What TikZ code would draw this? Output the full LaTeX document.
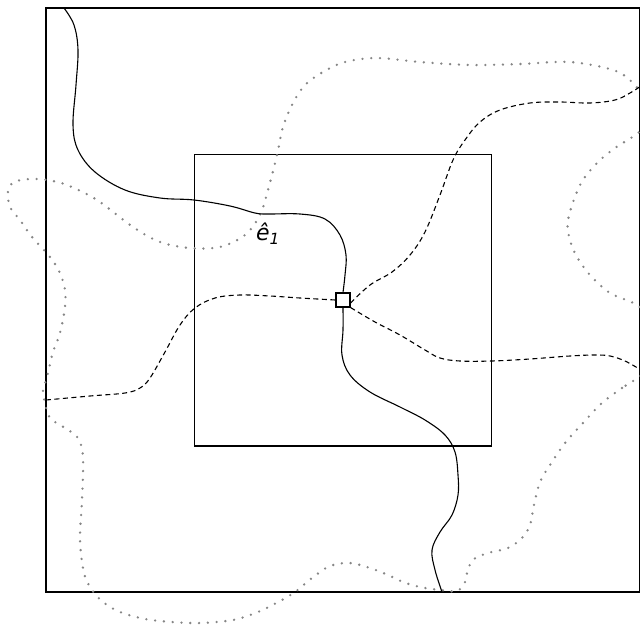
\documentclass[tikz,border=0pt]{standalone}
\usepackage{fontspec}
\setmainfont{DejaVu Sans}

\begin{document}
\begin{tikzpicture}[x=1pt, y=-1pt,
    frame/.style={draw, line width=1.1pt},
    trail/.style={line width=1.1pt, smooth, tension=0.6},
    dashtrail/.style={trail, dash pattern=on 5pt off 3.5pt},
    dots/.style={draw=gray!95, line width=2.6pt, line cap=round, dash pattern=on 0pt off 8.8pt},
    site/.style={draw, fill=white, line width=1.1pt, minimum size=14pt, inner sep=0pt}]
    \useasboundingbox (0,0) rectangle (640,626);
    \clip (0,0) rectangle (640,626);

    \coordinate (tl) at (46,8);
    \coordinate (br) at (639.3,592);
    \coordinate (itl) at (194.3,154.3);
    \coordinate (ibr) at (491.5,446);

    \draw[frame] (tl) rectangle (br);
    \draw[frame] (itl) rectangle (ibr);

    \node[site] (x) at (343,300) {};

    \coordinate (top) at (64,8);
    \coordinate (bot) at (442,592);
    \coordinate (west) at (46,400);
    \coordinate (ne) at (641,86);
    \coordinate (se) at (641,370);

    % boundary loop
    \draw[dots] plot[smooth cycle, tension=0.55] coordinates {
        (645,372) (622,388) (602,403) (583,423) (565,443) (550,465) (540,482)
        (534,505) (530,525) (522,538) (508,548) (488,553) (474,559) (468,569)
        (465,582) (457,591) (440,590) (420,587) (403,582) (388,575) (370,568)
        (350,563) (330,566) (312,578) (295,592) (280,601) (258,612) (233,620)
        (200,623) (172,622) (145,619) (120,612) (103,602) (92,590) (84,573)
        (80,540) (82,500) (83,457) (78,438) (65,428) (50,418) (45,403) (43,390)
        (47,377) (53,352) (60,333) (65,307) (65,290) (60,273) (50,257) (32,237)
        (20,220) (10,207) (8,191) (14,182) (30,179) (47,180) (67,185) (97,200)
        (133,227) (160,242) (190,248) (220,247) (245,235) (260,215) (268,190)
        (277,155) (283,127) (293,103) (305,85) (323,72) (345,62) (377,58)
        (420,62) (470,65) (520,64) (570,62) (613,70) (632,82) (645,100)
        (650,118) (638,133) (615,148) (597,163) (580,185) (568,220) (570,240)
        (577,257) (590,275) (610,293) (637,305) (652,322) (656,350)};

    % solid path through the site
    \draw[trail] plot coordinates {(top) (74,25) (78,50) (76,85) (73,125) (78,150)
        (95,172) (125,190) (160,198) (194,200) (230,206) (255,213) (268,214)
        (300,214) (325,219) (340,235) (346,255) (345,275) (x.north)};
    \draw[trail] plot coordinates {(x.south) (343,330) (342,355) (350,375)
        (370,392) (400,407) (425,420) (445,435) (455,452) (458,475) (458,495)
        (452,515) (440,532) (432,550) (435,570) (bot)};

    % dashed paths through the site
    \draw[dashtrail] plot coordinates {(west) (90,396) (125,393) (140,388) (150,378)
        (165,352) (180,325) (195,308) (215,298) (240,295) (270,296) (300,298)
        (x.west)};
    \draw[dashtrail] plot coordinates {([yshift=-3pt]x.east) (370,285) (392,272)
        (410,255) (425,232) (440,195) (453,160) (465,140) (480,122) (500,110)
        (530,103) (560,102) (590,103) (615,100) (630,93) (ne)};
    \draw[dashtrail] plot coordinates {(x.south east) (375,322) (400,335) (425,350)
        (440,358) (460,361) (492,361) (530,359) (570,356) (595,355) (610,356)
        (625,361) (se)};

    \node[font=\fontsize{22}{26}\selectfont] (e1) at (268,234) {\textit{ê}\textsubscript{\textit{1}}};
\end{tikzpicture}
\end{document}
